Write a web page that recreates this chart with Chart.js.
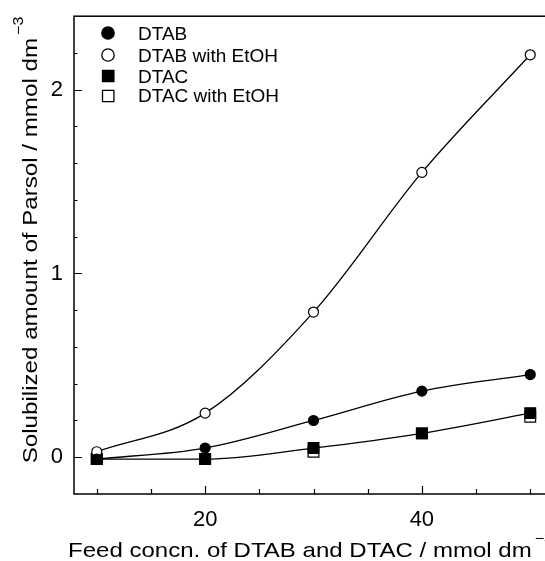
<!DOCTYPE html>
<html><head><meta charset="utf-8">
<script src="https://cdn.jsdelivr.net/npm/chart.js@4.4.1/dist/chart.umd.min.js"></script>
<style>html,body{margin:0;padding:0;background:#fff;overflow:hidden;width:545px;height:561px}canvas{display:block}</style>
</head><body>
<canvas id="c" width="560" height="561"></canvas>
<script>
// ---- data ----
const feedConc = [10, 20, 30, 40, 50];
const dtab      = [-0.01, 0.05, 0.20, 0.36, 0.45];
const dtabEtOH  = [0.03, 0.24, 0.79, 1.55, 2.19];
const dtac      = [-0.01, -0.01, 0.05, 0.13, 0.24];
const dtacEtOH  = [-0.01, -0.01, 0.03, 0.13, 0.22];
const seriesLabels = ['DTAB', 'DTAB with EtOH', 'DTAC', 'DTAC with EtOH'];
const xTickValues = [10, 15, 20, 25, 30, 35, 40, 45, 50];
const xTickLabels = [20, 40];
const yTickValues = [0, 0.2, 0.4, 0.6, 0.8, 1, 1.2, 1.4, 1.6, 1.8, 2, 2.2];
const yTickLabels = [0, 1, 2];
const xTitle = 'Feed concn. of DTAB and DTAC / mmol dm';
const yTitle = 'Solubilized amount of Parsol / mmol dm';
const unitSup = '\u22123';

const pts = arr => feedConc.map((x, i) => ({x: x, y: arr[i]}));
const isLabeled = (list, v) => list.some(t => Math.abs(t - v) < 1e-6);

const FONT = '"Liberation Sans", Arial, sans-serif';

function stretchedText(ctx, text, x, y, scaleX) {
  ctx.save();
  ctx.translate(x, y);
  ctx.scale(scaleX, 1);
  ctx.fillText(text, 0, 0);
  ctx.restore();
}

const decor = {
  id: 'decor',
  afterDraw(chart) {
    const ctx = chart.ctx;
    const a = chart.chartArea;
    const xs = chart.scales.x, ys = chart.scales.y;
    ctx.save();
    ctx.strokeStyle = '#000';
    ctx.fillStyle = '#000';
    ctx.lineWidth = 1.5;
    ctx.strokeRect(a.left, a.top, a.right - a.left, a.bottom - a.top);
    ctx.lineWidth = 1.2;
    ctx.beginPath();
    xTickValues.forEach(v => {
      const p = Math.round(xs.getPixelForValue(v)) + 0.5;
      const len = isLabeled(xTickLabels, v) ? 8 : 5;
      ctx.moveTo(p, a.bottom); ctx.lineTo(p, a.bottom - len);
    });
    yTickValues.forEach(v => {
      const p = Math.round(ys.getPixelForValue(v)) + 0.5;
      const len = isLabeled(yTickLabels, v) ? 8 : 3.5;
      ctx.moveTo(a.left, p); ctx.lineTo(a.left + len, p);
    });
    ctx.stroke();

    // legend
    const rows = [
      {y: 33, base: 39.5, fill: '#000', shape: 'circle'},
      {y: 55, base: 61.5, fill: '#fff', shape: 'circle'},
      {y: 76, base: 82.5, fill: '#000', shape: 'rect'},
      {y: 96, base: 101.8, fill: '#fff', shape: 'rect'}
    ];
    ctx.font = '17.5px ' + FONT;
    ctx.textBaseline = 'alphabetic';
    const wRef = ctx.measureText(seriesLabels[1]).width;
    const sx = 140 / wRef;
    rows.forEach((r, i) => {
      ctx.beginPath();
      ctx.lineWidth = 1.3;
      ctx.fillStyle = r.fill;
      if (r.shape === 'circle') ctx.arc(108, r.y, 6.2, 0, Math.PI * 2);
      else ctx.rect(102.5, r.y - 5.7, 11.4, 11.4);
      ctx.fill(); ctx.stroke();
      ctx.fillStyle = '#000';
      stretchedText(ctx, seriesLabels[i], 138, r.base, sx);
    });

    // x title
    ctx.font = '21px ' + FONT;
    const xw = ctx.measureText(xTitle).width;
    const xsx = 463.7 / xw;
    stretchedText(ctx, xTitle, 68, 556.5, xsx);
    ctx.font = '14px ' + FONT;
    stretchedText(ctx, unitSup, 68 + 463.7 + 3, 542.5, xsx);

    // y title
    ctx.save();
    ctx.translate(37, 463.3);
    ctx.rotate(-Math.PI / 2);
    ctx.font = '21px ' + FONT;
    const yw = ctx.measureText(yTitle).width;
    const ysx = 425.3 / yw;
    stretchedText(ctx, yTitle, 0, 0, ysx);
    ctx.font = '14px ' + FONT;
    stretchedText(ctx, unitSup, 425.3 + 3, -14, ysx);
    ctx.restore();
    ctx.restore();
  }
};

const lineCommon = {
  borderColor: '#000', borderWidth: 1.3, pointBorderColor: '#000',
  pointBorderWidth: 1.2, tension: 0.4, cubicInterpolationMode: 'monotone', fill: false
};

new Chart(document.getElementById('c'), {
  type: 'line',
  data: {
    datasets: [
      Object.assign({}, lineCommon, {label: seriesLabels[0], data: pts(dtab), showLine: true,
        pointStyle: 'circle', pointRadius: 5, pointBackgroundColor: '#000'}),
      Object.assign({}, lineCommon, {label: seriesLabels[1], data: pts(dtabEtOH), showLine: true,
        pointStyle: 'circle', pointRadius: 5, pointBackgroundColor: '#fff'}),
      Object.assign({}, lineCommon, {label: seriesLabels[2], data: pts(dtac), showLine: true,
        pointStyle: 'rect', pointRadius: 7.6, pointBackgroundColor: '#000'}),
      Object.assign({}, lineCommon, {label: seriesLabels[3], data: pts(dtacEtOH), showLine: false,
        pointStyle: 'rect', pointRadius: 7.6, pointBackgroundColor: '#fff'})
    ]
  },
  options: {
    responsive: false,
    animation: false,
    devicePixelRatio: 1,
    layout: {padding: {left: 0, top: 12, right: 7, bottom: 0}, autoPadding: false},
    plugins: {legend: {display: false}, tooltip: {enabled: false}, title: {display: false}},
    scales: {
      x: {
        type: 'linear', min: 7.9, max: 52.1,
        afterFit: s => { s.height = 67; },
        afterBuildTicks: s => { s.ticks = xTickValues.map(v => ({value: v})); },
        grid: {display: false}, border: {display: false},
        ticks: {
          color: '#000', font: {family: FONT, size: 22}, padding: 5, maxRotation: 0, autoSkip: false,
          callback: v => isLabeled(xTickLabels, v) ? String(v) : ''
        }
      },
      y: {
        type: 'linear', min: -0.2, max: 2.4,
        afterFit: s => { s.width = 74; },
        afterBuildTicks: s => { s.ticks = yTickValues.map(v => ({value: v})); },
        grid: {display: false}, border: {display: false},
        ticks: {
          color: '#000', font: {family: FONT, size: 22}, padding: 3, autoSkip: false,
          callback: v => isLabeled(yTickLabels, v) ? String(Math.round(v)) : ''
        }
      }
    }
  },
  plugins: [decor]
});
</script>
</body></html>
